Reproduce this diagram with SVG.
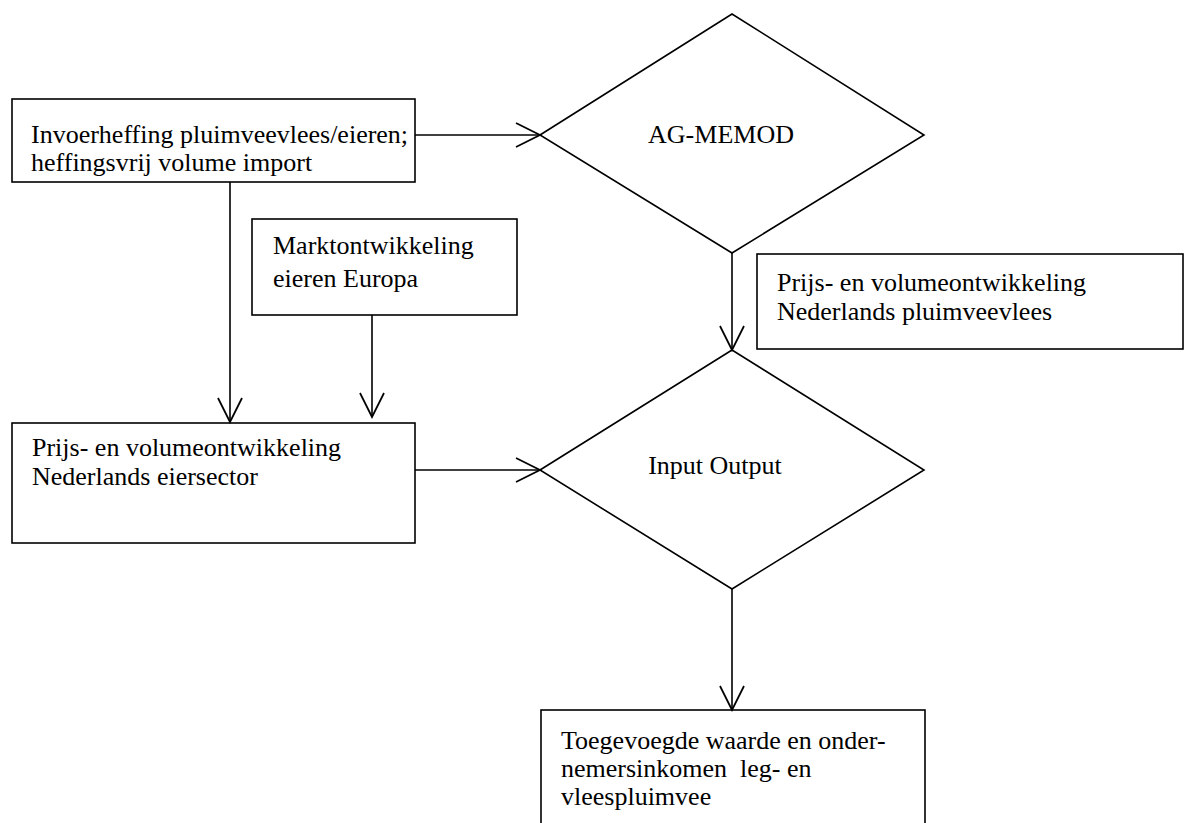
<svg xmlns="http://www.w3.org/2000/svg" width="1184" height="823" viewBox="0 0 1184 823">
<style>
.box{fill:#fff;stroke:#000;stroke-width:1.6}
.dia{fill:#fff;stroke:#000;stroke-width:1.6}
.t{font-family:"Liberation Serif","Times New Roman",serif;font-size:26px;fill:#000;white-space:pre}
.td{font-family:"Liberation Serif","Times New Roman",serif;font-size:26px;fill:#000}
.c{fill:none;stroke:#000;stroke-width:1.6}
</style>
<defs>
<marker id="arr" markerUnits="userSpaceOnUse" markerWidth="24" markerHeight="24" viewBox="0 0 22 22" refX="22" refY="11" orient="auto" overflow="visible">
<path d="M0,0 L22,11 L0,22" fill="none" stroke="#000" stroke-width="1.6"/>
</marker>
</defs>
<g id="n-invoer">
<rect class="box" x="12" y="99" width="403" height="83"/>
<text class="t" x="31" y="143">Invoerheffing pluimveevlees/eieren;</text>
<text class="t" x="31" y="171">heffingsvrij volume import</text>
</g>
<g id="n-agmemod">
<polygon class="dia" points="540,135 732,14 924,135 732,253"/>
<text class="td" x="721" y="143" text-anchor="middle">AG-MEMOD</text>
</g>
<g id="n-markt">
<rect class="box" x="252" y="219" width="265" height="96"/>
<text class="t" x="273" y="254">Marktontwikkeling</text>
<text class="t" x="273" y="287">eieren Europa</text>
</g>
<g id="n-pluimvee">
<rect class="box" x="757" y="254" width="426" height="95"/>
<text class="t" x="777" y="291">Prijs- en volumeontwikkeling</text>
<text class="t" x="777" y="320">Nederlands pluimveevlees</text>
</g>
<g id="n-eier">
<rect class="box" x="12" y="423" width="403" height="120"/>
<text class="t" x="32" y="456">Prijs- en volumeontwikkeling</text>
<text class="t" x="32" y="485">Nederlands eiersector</text>
</g>
<g id="n-io">
<polygon class="dia" points="540,470 732,350 924,470 732,589"/>
<text class="td" x="715" y="474" text-anchor="middle">Input Output</text>
</g>
<g id="n-toegevoegd">
<rect class="box" x="541" y="710" width="384" height="130"/>
<text class="t" x="561" y="749">Toegevoegde waarde en onder-</text>
<text class="t" x="561" y="777" xml:space="preserve">nemersinkomen  leg- en</text>
<text class="t" x="561" y="805">vleespluimvee</text>
</g>
<g id="connectors">
<line class="c" x1="415" y1="135" x2="540" y2="135" marker-end="url(#arr)"/>
<line class="c" x1="230" y1="182" x2="230" y2="422" marker-end="url(#arr)"/>
<line class="c" x1="372" y1="315" x2="372" y2="417" marker-end="url(#arr)"/>
<line class="c" x1="732" y1="253" x2="732" y2="350" marker-end="url(#arr)"/>
<line class="c" x1="415" y1="470" x2="540" y2="470" marker-end="url(#arr)"/>
<line class="c" x1="732" y1="589" x2="732" y2="710" marker-end="url(#arr)"/>
</g>
</svg>
